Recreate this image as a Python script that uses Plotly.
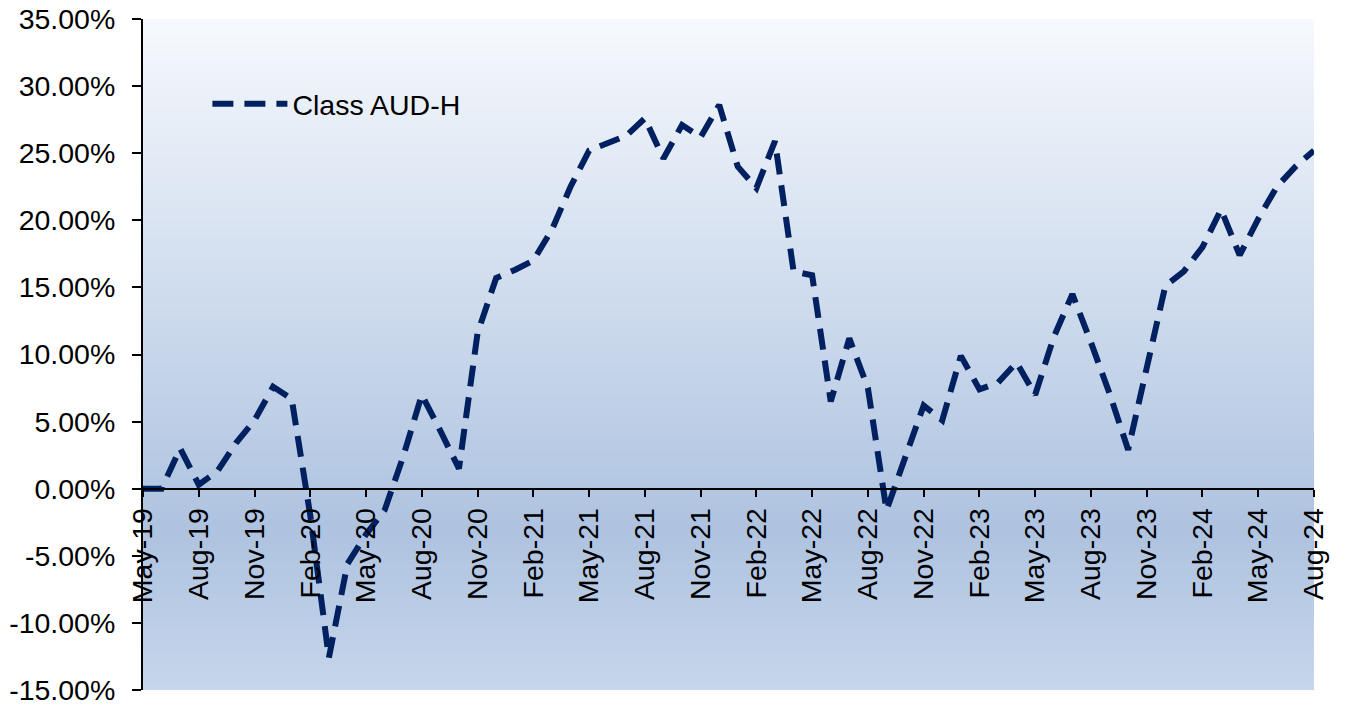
import plotly.graph_objects as go
import pandas as pd

# Monthly categories May-19 .. Aug-24
months = pd.date_range("2019-05-01", periods=64, freq="MS").strftime("%b-%y").tolist()

# Cumulative performance (%) of Class AUD-H
values = [
    0.0, 0.0, 3.0, 0.3, 1.3, 3.4, 5.1, 7.6,          # May-19 .. Dec-19
    6.7, -2.0, -12.6, -5.6, -3.4, -1.6, 2.4, 7.0,    # Jan-20 .. Aug-20
    4.3, 1.5, 11.6, 15.7,                            # Sep-20 .. Dec-20
    16.3, 17.0, 19.3, 22.5, 25.2, 25.8, 26.3, 27.6,  # Jan-21 .. Aug-21
    24.6, 27.1, 26.2, 28.6,                          # Sep-21 .. Dec-21
    24.0, 22.4, 25.9, 16.2, 15.9, 6.5, 11.2, 7.5,    # Jan-22 .. Aug-22
    -1.6, 2.3, 6.2, 5.1,                             # Sep-22 .. Dec-22
    9.9, 7.4, 7.9, 9.4, 7.0, 11.3, 14.5, 10.9,       # Jan-23 .. Aug-23
    7.1, 2.9, 9.2, 15.1,                             # Sep-23 .. Dec-23
    16.2, 18.0, 20.8, 17.4, 20.1, 22.5, 24.0, 25.2,  # Jan-24 .. Aug-24
]

tick_labels = months[::3]
y_tick_vals = [-15, -10, -5, 0, 5, 10, 15, 20, 25, 30, 35]
y_tick_text = ["-15.00%", "-10.00%", "-5.00%", "0.00%", "5.00%", "10.00%",
               "15.00%", "20.00%", "25.00%", "30.00%", "35.00%"]
series_name = "Class AUD-H"

FONT = "Arial, Liberation Sans, sans-serif"
FS = 28.5

# background gradient of the plot area (fraction from top -> colour)
grad_stops = [(0.0, (246, 249, 253)), (0.76, (174, 195, 224)), (1.0, (198, 214, 235))]


def grad_color(t):
    for (t0, c0), (t1, c1) in zip(grad_stops[:-1], grad_stops[1:]):
        if t0 <= t <= t1:
            f = (t - t0) / (t1 - t0)
            return "rgb(%d,%d,%d)" % tuple(round(a + (b - a) * f) for a, b in zip(c0, c1))
    return "rgb(%d,%d,%d)" % grad_stops[-1][1]


shapes = []
N = 160
for k in range(N):
    top = 1 - k / N
    bot = max(0, 1 - (k + 1) / N - 0.002)
    shapes.append(dict(type="rect", xref="x domain", yref="y domain",
                       x0=0, x1=1, y0=bot, y1=top, layer="below",
                       line=dict(width=0), fillcolor=grad_color((k + 0.5) / N)))

fig = go.Figure()
fig.add_trace(go.Scatter(
    x=months, y=values, mode="lines", name=series_name,
    line=dict(color="#002060", width=6, dash="21px,11px"),
))

fig.update_layout(
    width=1346, height=707, autosize=False,
    margin=dict(l=143, r=32, t=19, b=17, pad=0),
    paper_bgcolor="white", plot_bgcolor="white",
    font=dict(family=FONT, size=FS, color="black"),
    shapes=shapes,
    showlegend=True,
    legend=dict(x=0.055, y=0.873, xanchor="left", yanchor="middle",
                bgcolor="rgba(0,0,0,0)", font=dict(size=FS), itemwidth=75),
    xaxis=dict(type="category", range=[0, len(months) - 1],
               anchor="free", position=0.3, automargin=False,
               showline=True, linecolor="black", linewidth=2,
               ticks="outside", ticklen=7, tickwidth=1.5, tickcolor="black",
               tickangle=-90, tickmode="array", tickvals=tick_labels, ticktext=tick_labels,
               showgrid=False, zeroline=False, tickfont=dict(size=FS)),
    yaxis=dict(range=[-15, 35], automargin=False,
               tickmode="array", tickvals=y_tick_vals, ticktext=y_tick_text,
               showline=True, linecolor="black", linewidth=2,
               ticks="outside", ticklen=9, tickwidth=1.5, tickcolor="black",
               ticklabelstandoff=11,
               showgrid=False, zeroline=False, tickfont=dict(size=FS)),
)

fig.write_html("out.html")
